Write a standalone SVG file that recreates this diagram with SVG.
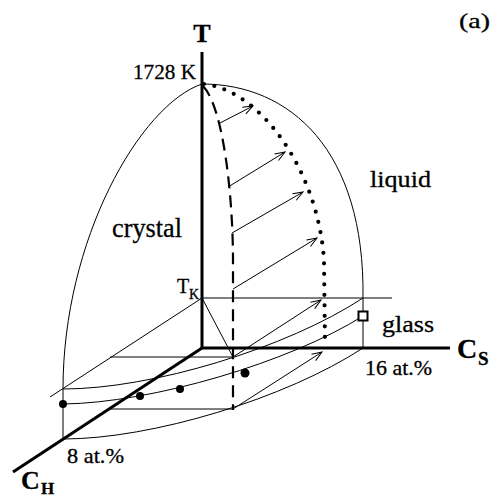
<svg xmlns="http://www.w3.org/2000/svg" width="497" height="498" viewBox="0 0 497 498">
<style>
.thin{fill:none;stroke:#000;stroke-width:1}
.axis{fill:none;stroke:#000;stroke-width:3}
.dash{fill:none;stroke:#000;stroke-width:2.2;stroke-dasharray:12 7}
.dots{fill:none;stroke:#000;stroke-width:4.2;stroke-linecap:round;stroke-dasharray:0 10.5}
.arr{fill:none;stroke:#000;stroke-width:1;marker-end:url(#ah)}
.lbl{font-family:"Liberation Serif","Times New Roman",serif;fill:#000;stroke:#000;stroke-width:0.3}
.bold{font-weight:bold}
</style>
<defs>
<marker id="ah" markerUnits="userSpaceOnUse" markerWidth="12" markerHeight="10" viewBox="-11 -5 12 10" refX="0" refY="0" orient="auto">
<path d="M-10,-3.8 L0,0 L-10,3.8" fill="none" stroke="#000" stroke-width="1"/>
</marker>
</defs>
<rect width="497" height="498" fill="#fff"/>
<g id="surface">
<path class="thin" d="M202,84 C140,105 63,240 63,389"/>
<path class="thin" d="M202,84 C290,84 365,150 363,298"/>
<path class="thin" d="M63,389 L63,439"/>
<path class="thin" d="M363,298 L363,348"/>
<path class="thin" d="M202,298 L50,397"/>
<path class="thin" d="M202,298 L392,298"/>
<path class="thin" d="M202,298 L233,357"/>
<path class="thin" d="M110,357 L233,357"/>
<path class="thin" d="M110,409 L233,409"/>
<path class="thin" d="M63,389 C151.9,389 286.2,348.3 363,298"/>
<path class="thin" d="M63,439 C151.9,439 286.2,398.3 363,348"/>
<path class="thin" d="M63,404 C152,403 290,362 363,316"/>
</g>
<g id="axes">
<path class="axis" d="M202,52 L202,348 L450,348"/>
<path class="axis" d="M202,348 L13,472"/>
</g>
<g id="curves">
<path class="dash" d="M203,86 C224,108 233,200 233,260 L233,410"/>
<path class="dots" d="M204,84 C260,90 318,170 324,260 L325,345"/>
</g>
<g id="connectors">
<path class="arr" d="M220,123 L253,106"/>
<path class="arr" d="M228,187 L285,152"/>
<path class="arr" d="M232,233 L303,192"/>
<path class="arr" d="M233,289 L317,238"/>
<path class="arr" d="M233,357 L321,300"/>
<path class="arr" d="M233,409 L322,352"/>
</g>
<g id="points">
<circle cx="63" cy="404" r="4"/>
<circle cx="140" cy="396" r="4"/>
<circle cx="180" cy="389" r="4"/>
<circle cx="245" cy="373" r="4.5"/>
<rect x="358.5" y="311.5" width="9" height="9" fill="#fff" stroke="#000" stroke-width="2"/>
</g>
<g id="labels">
<text class="lbl bold" x="202" y="42" font-size="26" text-anchor="middle">T</text>
<text class="lbl" x="459" y="28" font-size="22" textLength="31" lengthAdjust="spacingAndGlyphs">(a)</text>
<text class="lbl" x="133" y="79" font-size="21" textLength="63" lengthAdjust="spacingAndGlyphs">1728 K</text>
<text class="lbl" x="112" y="237" font-size="27" textLength="70" lengthAdjust="spacingAndGlyphs">crystal</text>
<text class="lbl" x="370" y="187" font-size="24" textLength="61" lengthAdjust="spacingAndGlyphs">liquid</text>
<text class="lbl" x="177" y="293" font-size="20">T</text>
<text class="lbl" x="189" y="299" font-size="14">K</text>
<text class="lbl" x="382" y="332" font-size="24" textLength="52" lengthAdjust="spacingAndGlyphs">glass</text>
<text class="lbl bold" x="457" y="358" font-size="28">C</text>
<text class="lbl bold" x="478" y="365" font-size="19">S</text>
<text class="lbl" x="365" y="375" font-size="21" textLength="67" lengthAdjust="spacingAndGlyphs">16 at.%</text>
<text class="lbl" x="67" y="463" font-size="21" textLength="57" lengthAdjust="spacingAndGlyphs">8 at.%</text>
<text class="lbl bold" x="21" y="489" font-size="26">C</text>
<text class="lbl bold" x="41" y="494" font-size="17">H</text>
</g>
</svg>
